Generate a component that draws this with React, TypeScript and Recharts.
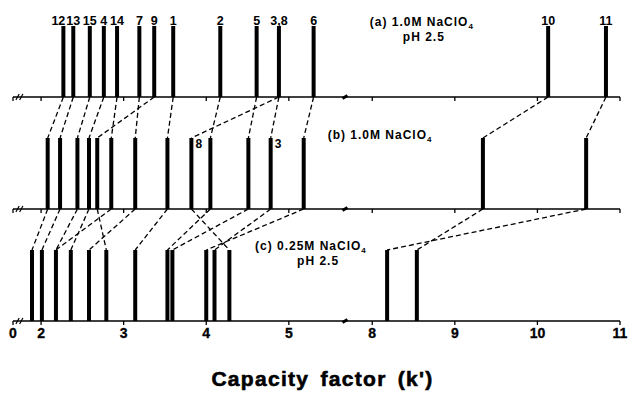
import { ComposedChart, ReferenceLine, Scatter, XAxis, YAxis } from 'recharts';

// compound numbers and their capacity factors (k') in the three eluents
const COMPOUNDS = ['12', '13', '15', '4', '14', '7', '9', '1', '2', '5', '3', '8', '6', '10', '11'];
const K_A = [2.27, 2.39, 2.59, 2.76, 2.92, 3.19, 3.37, 3.6, 4.17, 4.61, 4.88, 4.88, 5.3, 10.13, 10.83];
const K_B = [2.08, 2.23, 2.44, 2.58, 2.85, 3.14, 2.68, 3.53, 4.05, 4.51, 4.78, 3.82, 5.18, 9.34, 10.59];
const K_C = [1.89, 2.01, 2.18, 2.36, 2.18, 2.58, 2.79, 3.14, 3.53, 3.59, 4.1, 4.28, 4.0, 8.54, 8.18];
const B_TAGS = ['8', '3'];

const TICK_K = [0, 2, 3, 4, 5, 8, 9, 10, 11];
const TICK_LABELS = ['0', '2', '3', '4', '5', '8', '9', '10', '11'];

const FONT = '"Liberation Sans", Arial, sans-serif';

// broken axis: 0..1.75 squeezed, 2..5.7 and 8..11 at full scale
const toU = (k: number) => {
  if (k < 1.75) return (k / 1.75) * 0.09;
  if (k < 6.5) return k - 1.66;
  return k - 3.65;
};
const U_MAX = toU(11);
const TICK_U = TICK_K.map(toU);
const MID_BREAK = toU(5.68);

const Y_MAX = 321;
const PEAK_H = 71;
const BASES = [224, 112, 0];

const NOTES = [
  { u: 4.32, y: 295, text: '(a) 1.0M NaClO', sub: '4' },
  { u: 4.72, y: 280, text: 'pH 2.5', sub: '' },
  { u: 3.81, y: 182, text: '(b) 1.0M NaClO', sub: '4' },
  { u: 2.93, y: 71, text: '(c) 0.25M NaClO', sub: '4' },
  { u: 3.44, y: 56, text: 'pH 2.5', sub: '' },
];
const LABEL_NUDGE: Record<string, number> = { '12': -5 };

function groupPeaks(ks: number[]) {
  const groups: { k: number; names: string[] }[] = [];
  ks.forEach((k, i) => {
    const g = groups.find((p) => Math.abs(p.k - k) < 0.005);
    if (g) g.names.push(COMPOUNDS[i]);
    else groups.push({ k, names: [COMPOUNDS[i]] });
  });
  return groups;
}

const seg = (x1: number, y1: number, x2: number, y2: number) => [
  { x: x1, y: y1 },
  { x: x2, y: y2 },
];

export default function App() {
  const panels = [K_A, K_B, K_C].map(groupPeaks);
  const peakLabels = panels[0].map((g) => ({ u: toU(g.k), y: BASES[0] + PEAK_H, name: g.names.join(',') }));
  const bTags = B_TAGS.map((name) => ({ u: toU(K_B[COMPOUNDS.indexOf(name)]), y: BASES[1] + PEAK_H, name }));

  return (
    <div style={{ position: 'absolute', left: 0, top: 0, width: 629, height: 401, background: '#fff' }}>
      <ComposedChart width={629} height={401} margin={{ top: 0, right: 9, bottom: 10, left: 13 }}>
        <XAxis
          type="number"
          dataKey="u"
          domain={[0, U_MAX]}
          ticks={TICK_U}
          interval={0}
          tickFormatter={(v) => TICK_LABELS[TICK_U.findIndex((t) => Math.abs(t - v) < 1e-6)]}
          axisLine={false}
          tickLine={false}
          tickSize={4}
          tickMargin={3}
          height={70}
          tick={{ fill: '#000', fontSize: 14, fontWeight: 700, fontFamily: FONT, stroke: '#000', strokeWidth: 0.3 }}
          label={{
            value: "Capacity factor (k')",
            position: 'insideBottom',
            offset: 5,
            dx: 6,
            fill: '#000',
            stroke: '#000',
            strokeWidth: 0.6,
            fontSize: 21,
            fontWeight: 700,
            fontFamily: FONT,
            letterSpacing: 1.3,
            wordSpacing: 4,
          }}
        />
        <YAxis type="number" dataKey="y" domain={[0, Y_MAX]} hide />

        {BASES.map((b) => (
          <ReferenceLine key={'ax' + b} segment={seg(0, b, U_MAX, b)} stroke="#000" strokeWidth={1.6} ifOverflow="visible" />
        ))}
        {BASES.flatMap((b) =>
          TICK_U.map((t) => (
            <ReferenceLine key={'t' + b + '-' + t} segment={seg(t, b, t, b - 4)} stroke="#000" strokeWidth={1.3} ifOverflow="visible" />
          )),
        )}
        {BASES.flatMap((b) =>
          [0.055, 0.1].map((u) => (
            <ReferenceLine key={'br' + b + '-' + u} segment={seg(u - 0.02, b - 3, u + 0.02, b + 3)} stroke="#000" strokeWidth={1.2} ifOverflow="visible" />
          )),
        )}
        {BASES.map((b) => (
          <ReferenceLine key={'mb' + b} segment={seg(MID_BREAK - 0.03, b - 1.5, MID_BREAK + 0.03, b + 1.5)} stroke="#000" strokeWidth={3} ifOverflow="visible" />
        ))}

        {panels.flatMap((groups, p) =>
          groups.map((g) => (
            <ReferenceLine
              key={'pk' + p + '-' + g.k}
              segment={seg(toU(g.k), BASES[p], toU(g.k), BASES[p] + PEAK_H)}
              stroke="#000"
              strokeWidth={4}
              ifOverflow="visible"
            />
          )),
        )}

        {COMPOUNDS.map((c, i) => (
          <ReferenceLine
            key={'ab' + c}
            segment={seg(toU(K_A[i]), BASES[0], toU(K_B[i]), BASES[1] + PEAK_H)}
            stroke="#000"
            strokeWidth={1.3}
            strokeDasharray="5 3"
            ifOverflow="visible"
          />
        ))}
        {COMPOUNDS.map((c, i) => (
          <ReferenceLine
            key={'bc' + c}
            segment={seg(toU(K_B[i]), BASES[1], toU(K_C[i]), BASES[2] + PEAK_H)}
            stroke="#000"
            strokeWidth={1.3}
            strokeDasharray="5 3"
            ifOverflow="visible"
          />
        ))}

        <Scatter
          data={peakLabels}
          isAnimationActive={false}
          shape={(props: any) => (
            <text
              x={props.cx + (LABEL_NUDGE[props.payload.name] || 0)}
              y={props.cy - 1}
              textAnchor="middle"
              fontFamily={FONT}
              fontWeight={700}
              fontSize={12.5}
              fill="#000"
            >
              {props.payload.name}
            </text>
          )}
        />
        <Scatter
          data={bTags}
          isAnimationActive={false}
          shape={(props: any) => (
            <text x={props.cx + 4} y={props.cy + 10} fontFamily={FONT} fontWeight={700} fontSize={12} fill="#000">
              {props.payload.name}
            </text>
          )}
        />
        <Scatter
          data={NOTES}
          isAnimationActive={false}
          shape={(props: any) => (
            <text x={props.cx} y={props.cy} fontFamily={FONT} fontWeight={700} fontSize={12} letterSpacing={1} fill="#000">
              <tspan>{props.payload.text}</tspan>
              {props.payload.sub ? (
                <tspan fontSize={8} dy={3}>
                  {props.payload.sub}
                </tspan>
              ) : null}
            </text>
          )}
        />
      </ComposedChart>
    </div>
  );
}
